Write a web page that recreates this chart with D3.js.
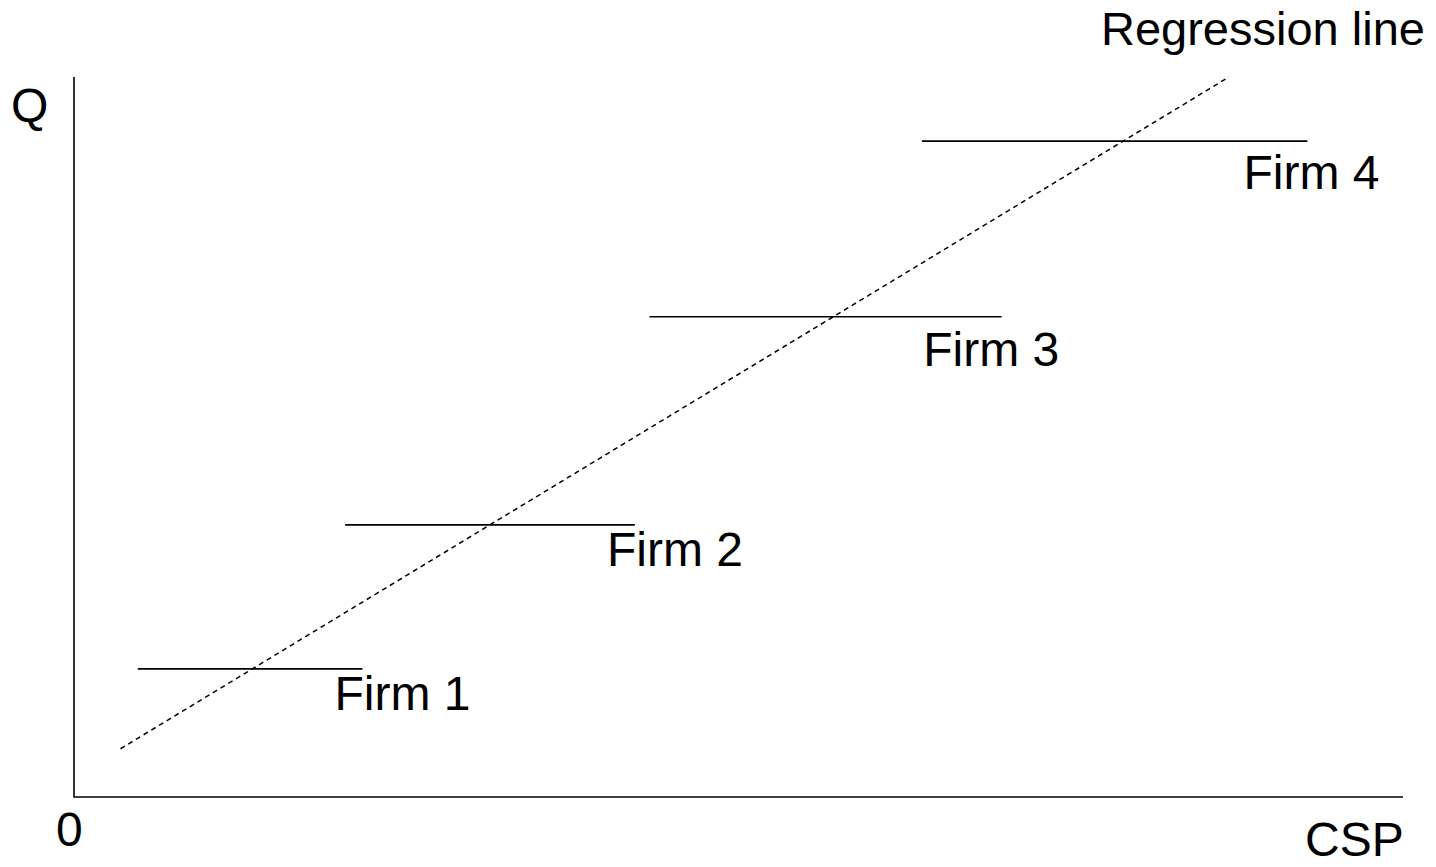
<!DOCTYPE html>
<html>
<head>
<meta charset="utf-8">
<script src="https://d3js.org/d3.v7.min.js"></script>
<style>
    html, body { margin: 0; padding: 0; background: #fff; }
    svg { display: block; }
    text { font-family: "Liberation Sans", Arial, Helvetica, sans-serif; fill: #000; }
</style>
</head>
<body>
<svg width="1436" height="867"></svg>
<script>
    // firm ranges (horizontal segments) in chart units
    const firms = ["Firm 1", "Firm 2", "Firm 3", "Firm 4"];
    const firmStart = [0.48, 2.04, 4.33, 6.38];
    const firmEnd = [2.17, 4.22, 6.98, 9.28];
    const firmQ = [1.78, 3.78, 6.67, 9.11];
    // where each label sits
    const labelX = [1.96, 4.01, 6.39, 8.80];
    const labelQ = [1.21, 3.21, 5.99, 8.44];
    // regression line endpoints
    const regX = [0.35, 8.69];
    const regQ = [0.67, 10];

    const svg = d3.select("svg");
    const x = d3.scaleLinear().domain([0, 10]).range([74, 1403]);
    const y = d3.scaleLinear().domain([0, 10]).range([797, 77]);
    const fs = 48;

    // axes
    svg.append("path")
        .attr("d", d3.line()([[x(0), y(10)], [x(0), y(0)], [x(10), y(0)]]))
        .attr("fill", "none")
        .attr("stroke", "#000")
        .attr("stroke-width", 1.6);

    // firm segments
    firms.forEach((f, i) => {
        svg.append("line")
            .attr("x1", x(firmStart[i]))
            .attr("x2", x(firmEnd[i]))
            .attr("y1", y(firmQ[i]))
            .attr("y2", y(firmQ[i]))
            .attr("stroke", "#000")
            .attr("stroke-width", 1.6);
        svg.append("text")
            .attr("x", x(labelX[i]))
            .attr("y", y(labelQ[i]))
            .attr("font-size", fs)
            .text(f);
    });

    // regression line
    svg.append("line")
        .attr("x1", x(regX[0]))
        .attr("y1", y(regQ[0]))
        .attr("x2", x(regX[1]))
        .attr("y2", y(regQ[1]))
        .attr("stroke", "#000")
        .attr("stroke-width", 1.5)
        .attr("stroke-dasharray", "5,4");

    svg.append("text").attr("x", 1101).attr("y", 45).attr("font-size", 47).text("Regression line");
    svg.append("text").attr("x", 11).attr("y", 122).attr("font-size", fs).text("Q");
    svg.append("text").attr("x", 56).attr("y", 846).attr("font-size", fs).text("0");
    svg.append("text").attr("x", 1305).attr("y", 856).attr("font-size", fs).text("CSP");
</script>
</body>
</html>
